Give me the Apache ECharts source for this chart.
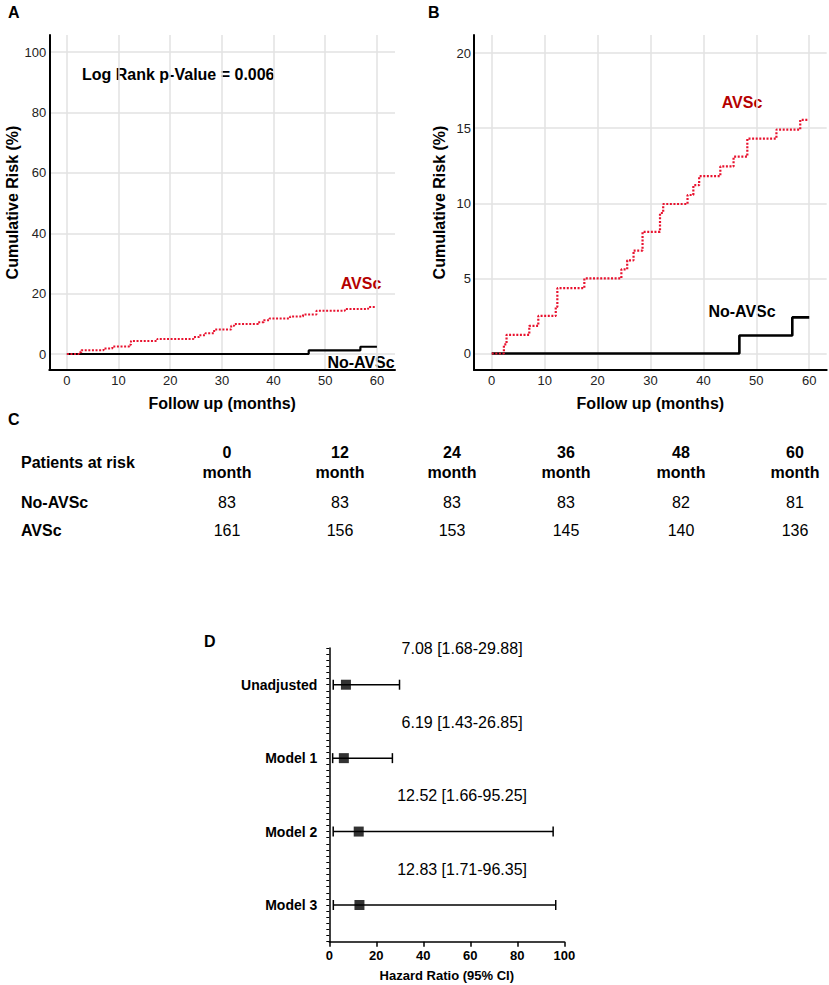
<!DOCTYPE html>
<html>
<head>
<meta charset="utf-8">
<script src="https://cdn.jsdelivr.net/npm/echarts@6/dist/echarts.min.js"></script>
<style>
html,body{margin:0;padding:0;background:#fff;}
#chart{width:829px;height:985px;}
</style>
</head>
<body>
<div id="chart"></div>
<script>
// ---- Data ----
const avscTime = [0, 2.3, 2.8, 7.1, 8.8, 12.1, 12.4, 17.5, 24.5, 25.6, 26.8, 28.5, 31.8, 32.4, 37.0, 38.1, 39.2, 43.2, 45.7, 48.3, 53.8, 58.3, 59.8];
const avscRisk = [0, 0.6, 1.24, 1.84, 2.5, 3.1, 4.35, 5.0, 5.6, 6.2, 6.85, 8.1, 9.35, 9.95, 10.55, 11.2, 11.8, 12.45, 13.1, 14.3, 14.9, 15.55, 15.55];
const noTime = [0, 46.8, 56.8, 60];
const noRisk = [0, 1.2, 2.4, 2.4];

const xTicks = [0, 10, 20, 30, 40, 50, 60];
const yTicksA = [0, 20, 40, 60, 80, 100];
const yTicksB = [0, 5, 10, 15, 20];

const riskMonths = [0, 12, 24, 36, 48, 60];
const riskNoAVSc = [83, 83, 83, 83, 82, 81];
const riskAVSc = [161, 156, 153, 145, 140, 136];

const models = ['Unadjusted', 'Model 1', 'Model 2', 'Model 3'];
const hr = [7.08, 6.19, 12.52, 12.83];
const ciLow = [1.68, 1.43, 1.66, 1.71];
const ciHigh = [29.88, 26.85, 95.25, 96.35];

const pValueText = 'Log Rank p-Value = 0.006';

// ---- Build ----
const FONT = "'Liberation Sans', Arial, sans-serif";
const RED = '#e8132f';
const DARKRED = '#b50000';
const zip = (a, b) => a.map((v, i) => [v, b[i]]);

function kmXAxis(gridIndex, min, max) {
  return {
    type: 'value', gridIndex, min, max,
    name: 'Follow up (months)', nameLocation: 'middle', nameGap: 25,
    nameTextStyle: { fontFamily: FONT, fontWeight: 'bold', fontSize: 16, color: '#000' },
    axisLine: { show: true, onZero: false, lineStyle: { color: '#000', width: 2 } },
    axisTick: { show: false, customValues: xTicks },
    axisLabel: { customValues: xTicks, fontFamily: FONT, fontSize: 13, color: '#222', margin: 4 },
    splitLine: { show: true, lineStyle: { color: '#e2e2e2', width: 1.5 } }
  };
}
function kmYAxis(gridIndex, min, max, ticks) {
  return {
    type: 'value', gridIndex, min, max,
    name: 'Cumulative Risk (%)', nameLocation: 'middle', nameGap: 27,
    nameTextStyle: { fontFamily: FONT, fontWeight: 'bold', fontSize: 16, color: '#000' },
    axisLine: { show: true, onZero: false, lineStyle: { color: '#000', width: 2 } },
    axisTick: { show: false, customValues: ticks },
    axisLabel: { customValues: ticks, fontFamily: FONT, fontSize: 13, color: '#222', margin: 3 },
    splitLine: { show: true, lineStyle: { color: '#e2e2e2', width: 1.5 } }
  };
}

const textStyle = (t, size, weight, color, extra) => Object.assign({
  text: t, font: `${weight} ${size}px ${FONT}`, fill: color
}, extra || {});

const graphics = [
  { type: 'text', left: 8, top: 4, style: textStyle('A', 16, 'bold', '#000') },
  { type: 'text', left: 428, top: 4, style: textStyle('B', 16, 'bold', '#000') },
  { type: 'text', left: 8, top: 411, style: textStyle('C', 16, 'bold', '#000') },
  { type: 'text', left: 204, top: 633, style: textStyle('D', 16, 'bold', '#000') },
  { type: 'text', x: 82, y: 74, style: textStyle(pValueText, 16, 'bold', '#000', { verticalAlign: 'middle' }) },
  { type: 'text', x: 361, y: 283, style: textStyle('AVSc', 16, 'bold', DARKRED, { align: 'center', verticalAlign: 'middle' }) },
  { type: 'text', x: 361, y: 362, style: textStyle('No-AVSc', 16, 'bold', '#000', { align: 'center', verticalAlign: 'middle' }) },
  { type: 'text', x: 742, y: 102, style: textStyle('AVSc', 16, 'bold', DARKRED, { align: 'center', verticalAlign: 'middle' }) },
  { type: 'text', x: 742, y: 311, style: textStyle('No-AVSc', 16, 'bold', '#000', { align: 'center', verticalAlign: 'middle' }) },
  { type: 'text', x: 21, y: 462, style: textStyle('Patients at risk', 16, 'bold', '#000', { verticalAlign: 'middle' }) },
  { type: 'text', x: 21, y: 502, style: textStyle('No-AVSc', 16, 'bold', '#000', { verticalAlign: 'middle' }) },
  { type: 'text', x: 21, y: 530, style: textStyle('AVSc', 16, 'bold', '#000', { verticalAlign: 'middle' }) }
];
const colX = [227, 340, 452, 566, 681, 795];
riskMonths.forEach((m, i) => {
  graphics.push({ type: 'text', x: colX[i], y: 452, style: textStyle(String(m), 16, 'bold', '#000', { align: 'center', verticalAlign: 'middle' }) });
  graphics.push({ type: 'text', x: colX[i], y: 472, style: textStyle('month', 16, 'bold', '#000', { align: 'center', verticalAlign: 'middle' }) });
  graphics.push({ type: 'text', x: colX[i], y: 502, style: textStyle(String(riskNoAVSc[i]), 16, 'normal', '#000', { align: 'center', verticalAlign: 'middle' }) });
  graphics.push({ type: 'text', x: colX[i], y: 530, style: textStyle(String(riskAVSc[i]), 16, 'normal', '#000', { align: 'center', verticalAlign: 'middle' }) });
});

const forestData = models.map((m, i) => [i, ciLow[i], ciHigh[i]]);
const ciLabelX = 56.5;

const option = {
  animation: false,
  backgroundColor: '#fff',
  grid: [
    { left: 49.3, top: 35, width: 345.7, height: 335 },
    { left: 474, top: 35, width: 352.7, height: 335 },
    { left: 329.3, top: 648, width: 235, height: 293.7 }
  ],
  xAxis: [
    kmXAxis(0, -3.4, 63.5),
    kmXAxis(1, -3.35, 63.3),
    {
      type: 'value', gridIndex: 2, min: 0, max: 100, interval: 20,
      name: 'Hazard Ratio (95% CI)', nameLocation: 'middle', nameGap: 27,
      nameTextStyle: { fontFamily: FONT, fontWeight: 'bold', fontSize: 13, color: '#000' },
      axisLine: { show: true, onZero: false, lineStyle: { color: '#000', width: 1.5 } },
      axisTick: { show: true, length: 5, lineStyle: { color: '#000', width: 1.5 } },
      axisLabel: { fontFamily: FONT, fontWeight: 'bold', fontSize: 13, color: '#000', margin: 7 },
      splitLine: { show: false }
    }
  ],
  yAxis: [
    kmYAxis(0, -5.3, 105.7, yTicksA),
    kmYAxis(1, -1.1, 21.2, yTicksB),
    {
      type: 'category', gridIndex: 2, data: models, inverse: true, position: 'left',
      axisLine: { show: true, lineStyle: { color: '#000', width: 1.5 } },
      axisTick: { show: false },
      axisLabel: { fontFamily: FONT, fontWeight: 'bold', fontSize: 14, color: '#000', margin: 12 },
      splitLine: { show: false }
    },
    {
      type: 'value', gridIndex: 2, min: 0, max: 48, interval: 1, position: 'left', offset: 0,
      axisLine: { show: false, onZero: false },
      axisTick: { show: true, length: 3, lineStyle: { color: '#000', width: 1 } },
      axisLabel: { show: false },
      splitLine: { show: false }
    }
  ],
  graphic: graphics,
  series: [
    { type: 'line', xAxisIndex: 0, yAxisIndex: 0, step: 'end', data: zip(noTime, noRisk), showSymbol: false, symbol: 'none',
      lineStyle: { color: '#000', width: 2.2 }, z: 3 },
    { type: 'line', xAxisIndex: 0, yAxisIndex: 0, step: 'end', data: zip(avscTime, avscRisk), showSymbol: false, symbol: 'none',
      lineStyle: { color: RED, width: 2, type: [2, 1.6], cap: 'butt' }, z: 4 },
    { type: 'line', xAxisIndex: 1, yAxisIndex: 1, step: 'end', data: zip(noTime, noRisk), showSymbol: false, symbol: 'none',
      lineStyle: { color: '#000', width: 2.6 }, z: 3 },
    { type: 'line', xAxisIndex: 1, yAxisIndex: 1, step: 'end', data: zip(avscTime, avscRisk), showSymbol: false, symbol: 'none',
      lineStyle: { color: RED, width: 2.2, type: [2, 1.6], cap: 'butt' }, z: 4 },
    {
      type: 'custom', xAxisIndex: 2, yAxisIndex: 2,
      encode: { x: [1, 2], y: 0 },
      data: forestData,
      renderItem: function (params, api) {
        const i = api.value(0);
        const p1 = api.coord([api.value(1), i]);
        const p2 = api.coord([api.value(2), i]);
        const band = api.size([0, 1])[1];
        const lx = api.coord([ciLabelX, i])[0];
        const h = 5;
        const ls = { stroke: '#000', lineWidth: 1.5 };
        const k = params.dataIndex;
        return {
          type: 'group',
          children: [
            { type: 'line', shape: { x1: p1[0], y1: p1[1], x2: p2[0], y2: p2[1] }, style: ls },
            { type: 'line', shape: { x1: p1[0], y1: p1[1] - h, x2: p1[0], y2: p1[1] + h }, style: ls },
            { type: 'line', shape: { x1: p2[0], y1: p2[1] - h, x2: p2[0], y2: p2[1] + h }, style: ls },
            { type: 'text', x: lx, y: p1[1] - band * 0.49,
              style: { text: hr[k].toFixed(2) + ' [' + ciLow[k].toFixed(2) + '-' + ciHigh[k].toFixed(2) + ']',
                       font: `normal 16px ${FONT}`, fill: '#000', align: 'center', verticalAlign: 'middle' } }
          ]
        };
      },
      z: 2
    },
    {
      type: 'scatter', xAxisIndex: 2, yAxisIndex: 2,
      data: models.map((m, i) => [hr[i], i]),
      symbol: 'rect', symbolSize: [10, 10],
      itemStyle: { color: '#000' }, z: 5
    }
  ]
};

const chart = echarts.init(document.getElementById('chart'), null, { renderer: 'svg' });
chart.setOption(option);
</script>
</body>
</html>
